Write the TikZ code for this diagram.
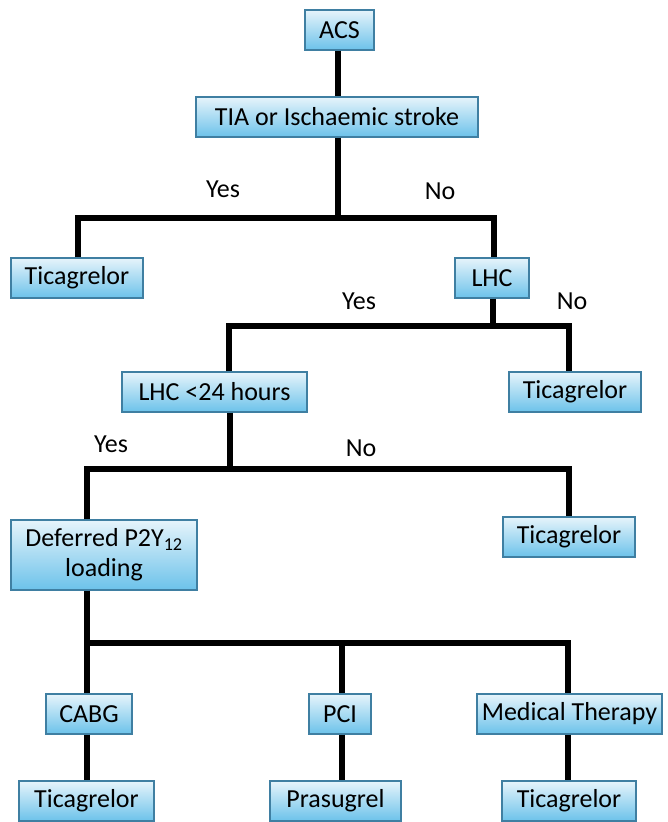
\documentclass[tikz,border=0pt]{standalone}
\usepackage{fontspec}
\setmainfont{Carlito}
\usepackage{tikz}

\definecolor{boxtop}{HTML}{E6F4FB}
\definecolor{boxbot}{HTML}{6CC2EA}
\definecolor{boxline}{HTML}{3F7FA2}

\begin{document}
\begin{tikzpicture}[x=1pt, y=-1pt,
    box/.style={draw=boxline, line width=1.2pt, top color=boxtop, bottom color=boxbot,
        minimum height=40pt, inner xsep=3pt, inner ysep=0pt, align=center,
        font=\fontsize{26}{29}\selectfont},
    link/.style={line width=5.5pt, black},
    answer/.style={anchor=base, inner sep=0pt, font=\fontsize{26}{29}\selectfont}]
    \useasboundingbox (0,0) rectangle (667,822);
    % decision boxes
    \node[box, minimum width=69pt] (acs) at (339.5,30) {ACS};
    \node[box, minimum width=282pt] (tia) at (337,117) {TIA or Ischaemic stroke};
    \node[box, minimum width=132pt] (tica) at (77,278) {Ticagrelor};
    \node[box, minimum width=74pt] (lhc) at (492,278) {LHC};
    \node[box, minimum width=185pt] (early) at (214.5,392) {LHC <24 hours};
    \node[box, minimum width=132pt] (ticb) at (575,392) {Ticagrelor};
    \node[box, minimum width=186pt, minimum height=70pt] (defer) at (104,555)
        {Deferred P2Y\textsubscript{12}\\[1pt]loading};
    \node[box, minimum width=132pt] (ticc) at (569,537) {Ticagrelor};
    \node[box, minimum width=86pt] (cabg) at (89,714) {CABG};
    \node[box, minimum width=62pt] (pci) at (340,714) {PCI};
    \node[box, minimum width=185pt] (med) at (569.5,714) {Medical Therapy};
    \node[box, minimum width=135pt] (ticd) at (86.5,801) {Ticagrelor};
    \node[box, minimum width=131pt] (pras) at (335.5,801) {Prasugrel};
    \node[box, minimum width=134pt] (tice) at (569,801) {Ticagrelor};
    % junctions
    \coordinate (ja) at (338,218);
    \coordinate (jal) at (78,218);
    \coordinate (jar) at (494,218);
    \coordinate (jb) at (493,326);
    \coordinate (jbl) at (229,326);
    \coordinate (jbr) at (569,326);
    \coordinate (jc) at (230,469);
    \coordinate (jcl) at (87,469);
    \coordinate (jcr) at (569,469);
    \coordinate (jd) at (87,643);
    \coordinate (jdm) at (342,643);
    \coordinate (jdr) at (568,643);
    % connectors
    \draw[link] (acs.south -| ja) -- (tia.north -| ja);
    \draw[link] (tia.south -| ja) -- (ja);
    \draw[link] (jal |- tica.north) -- (jal) -- (jar) -- (jar |- lhc.north);
    \draw[link] (lhc.south -| jb) -- (jb);
    \draw[link] (jbl |- early.north) -- (jbl) -- (jbr) -- (jbr |- ticb.north);
    \draw[link] (early.south -| jc) -- (jc);
    \draw[link] (jcl |- defer.north) -- (jcl) -- (jcr) -- (jcr |- ticc.north);
    \draw[link] (defer.south -| jd) -- (jd |- cabg.north);
    \draw[link] (jd) -- (jdr) -- (jdr |- med.north);
    \draw[link] (jdm) -- (jdm |- pci.north);
    \draw[link] (cabg.south -| jd) -- (ticd.north -| jd);
    \draw[link] (pci.south -| jdm) -- (pras.north -| jdm);
    \draw[link] (med.south -| jdr) -- (tice.north -| jdr);
    % answers
    \node[answer] (yesa) at (223,197) {Yes};
    \node[answer] (noa) at (440,199) {No};
    \node[answer] (yesb) at (359,309) {Yes};
    \node[answer] (nob) at (572,309) {No};
    \node[answer] (yesc) at (111,452) {Yes};
    \node[answer] (noc) at (361,456) {No};
\end{tikzpicture}
\end{document}
